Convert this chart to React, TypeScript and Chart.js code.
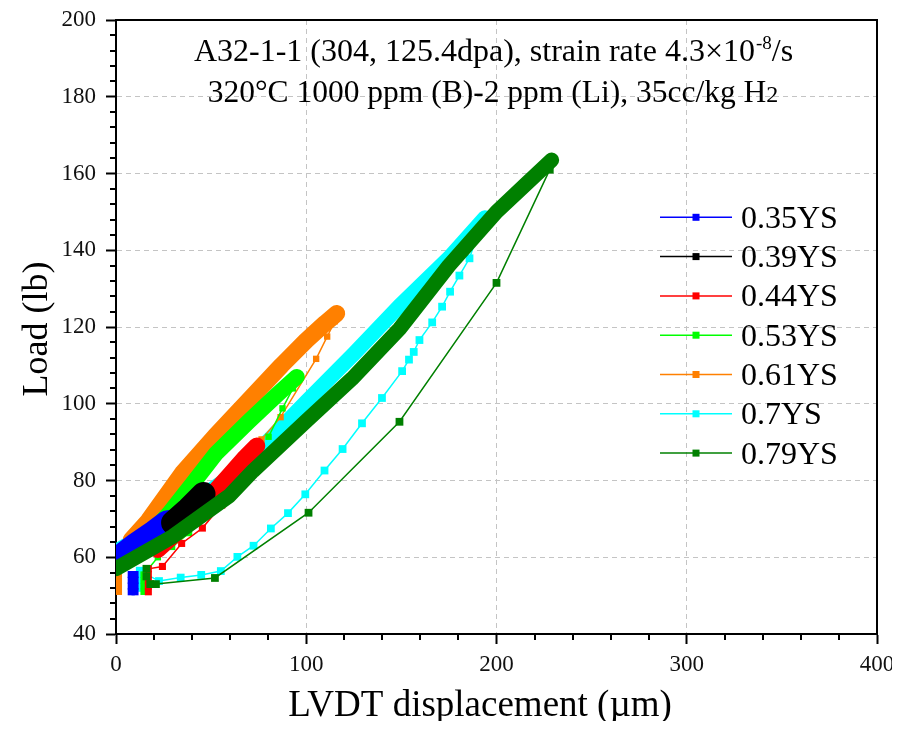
import React, { useEffect, useRef } from 'react';
import { Chart, registerables } from 'chart.js';

Chart.register(...registerables);

type P = [number, number];

// ---------- data ----------
const seriesLabels = ['0.35YS', '0.39YS', '0.44YS', '0.53YS', '0.61YS', '0.7YS', '0.79YS'];
const seriesColors = ['#0000ff', '#000000', '#ff0000', '#00ff00', '#ff8000', '#00ffff', '#008000'];

// dense loading bands
const band035: P[] = [[1, 59.5], [10, 63], [20, 66.4], [27, 69]];
const band039: P[] = [[30, 69], [38, 72.5], [46, 76.5]];
const band044: P[] = [[22, 62], [32, 66.5], [42, 71], [50, 76], [60, 81.5], [68, 86], [74, 89]];
const band053: P[] = [[0, 58], [15, 64.5], [28, 71.5], [40, 79], [52.5, 87], [70, 95.5], [85, 102.5], [95, 107]];
const band061: P[] = [[8, 64.5], [17, 69.5], [35, 82], [52, 91.5], [70, 101], [87, 110], [100, 116.5], [110, 121], [116, 123.5]];
const band07: P[] = [[0, 61.5], [30, 70.5], [60, 81], [77, 88.8], [100, 100.5], [125, 113], [149, 125.5], [175, 138], [194, 148.5]];
const band079: P[] = [[0, 57], [30, 65.5], [59.5, 76], [72, 82.5], [100, 95.5], [124, 106.5], [149, 119.5], [175, 136], [200, 150], [215, 157], [229, 163.5]];

// sparse points (square markers joined by thin lines)
const pts035: P[] = [[8, 51], [8, 52.5], [8, 54], [8, 55.5], [10, 55.5], [10, 54], [10, 52.5], [10, 51]];
const pts044: P[] = [[17, 51], [17, 52.5], [17, 54], [17, 55.5], [17, 57], [24.4, 57.6], [34.5, 63.6], [45.4, 67.6], [55.6, 73.6], [65, 79.5]];
const pts053Low: P[] = [[14.5, 51], [14.5, 52.5], [14.5, 54], [14.5, 55.5], [22, 60], [29.5, 62.7], [38.4, 66.3]];
const pts053High: P[] = [[80.2, 91.4], [87.5, 98.8], [93, 104]];
const pts061: P[] = [[1.5, 51], [1.5, 52.5], [1.5, 54], [1.5, 55.5], [1.5, 57], [3, 59]];
const pts061High: P[] = [[76.5, 90.7], [86.5, 96.5], [105.2, 111.7], [111, 117.5], [115, 121.5]];
const pts07: P[] = [[12.5, 52], [12.5, 53.5], [12.5, 55], [12.5, 56.5], [22.6, 53.8], [34, 54.7], [44.8, 55.4], [55.1, 56.4], [63.8, 60.1], [72.3, 63], [81.4, 67.5], [90.4, 71.5], [99.5, 76.4], [109.6, 82.6], [119.1, 88.2], [129.3, 94.9], [139.8, 101.5], [150.4, 108.5], [154, 111.5], [156.5, 113.5], [159.5, 116.6], [166.2, 121.2], [171.4, 125.3], [175.6, 129.2], [180.5, 133.4], [185.8, 137.9], [190, 144]];
const pts079: P[] = [[16, 57], [16, 55], [18, 53], [21, 53], [52, 54.6], [101.2, 71.6], [149, 95.3], [200, 131.5], [228, 161]];

// axes
const xMin = 0, xMax = 400, xStep = 100, xMinorStep = 20;
const yMin = 40, yMax = 200, yStep = 20, yMinorStep = 4;
const xTitle = 'LVDT displacement (µm)';
const yTitle = 'Load (lb)';
const titleLine1 = 'A32-1-1 (304, 125.4dpa), strain rate 4.3×10';
const titleSup = '-8';
const titleTail = '/s';
const titleLine2 = '320°C 1000 ppm (B)-2 ppm (Li), 35cc/kg H';
const titleSub = '2';

const FONT = '"Liberation Serif", "Times New Roman", serif';

const toXY = (pts: P[]) => pts.map(([x, y]) => ({ x, y }));

function band(pts: P[], color: string, width: number) {
  return {
    data: toXY(pts),
    showLine: true,
    borderColor: color,
    backgroundColor: color,
    borderWidth: width,
    pointRadius: 0,
    pointHoverRadius: 0,
    borderJoinStyle: 'round' as const,
    borderCapStyle: 'round' as const,
    fill: false,
  };
}

function markers(pts: P[], color: string, r = 5) {
  return {
    data: toXY(pts),
    showLine: true,
    borderColor: color,
    backgroundColor: color,
    borderWidth: 1.5,
    pointStyle: 'rect' as const,
    pointRadius: r,
    pointHoverRadius: r,
    pointBorderWidth: 0,
    pointBackgroundColor: color,
    fill: false,
  };
}

const overlayPlugin = {
  id: 'overlay',
  afterDraw(chart: any) {
    const { ctx, chartArea: ca, scales } = chart;
    const xs = scales.x;
    const ys = scales.y;
    ctx.save();
    // frame top & right
    ctx.strokeStyle = '#000';
    ctx.lineWidth = 2;
    ctx.beginPath();
    ctx.moveTo(ca.left, ca.top);
    ctx.lineTo(ca.right, ca.top);
    ctx.lineTo(ca.right, ca.bottom);
    ctx.stroke();
    // minor ticks
    ctx.beginPath();
    for (let v = xMin; v <= xMax; v += xMinorStep) {
      if (v % xStep === 0) continue;
      const px = Math.round(xs.getPixelForValue(v));
      ctx.moveTo(px, ca.bottom);
      ctx.lineTo(px, ca.bottom + 6);
    }
    for (let v = yMin; v <= yMax; v += yMinorStep) {
      if ((v - yMin) % yStep === 0) continue;
      const py = Math.round(ys.getPixelForValue(v));
      ctx.moveTo(ca.left, py);
      ctx.lineTo(ca.left - 6, py);
    }
    ctx.stroke();

    // axis titles
    ctx.fillStyle = '#000';
    ctx.font = `37px ${FONT}`;
    ctx.textAlign = 'center';
    ctx.textBaseline = 'alphabetic';
    ctx.fillText(xTitle, 472, 708);
    ctx.font = `36px ${FONT}`;
    ctx.save();
    ctx.translate(39, 321);
    ctx.rotate(-Math.PI / 2);
    ctx.fillText(yTitle, 0, 0);
    ctx.restore();

    // chart title (two lines)
    ctx.textAlign = 'left';
    const big = `32px ${FONT}`;
    const small = `19px ${FONT}`;
    ctx.font = big;
    const w1 = ctx.measureText(titleLine1).width;
    const w1t = ctx.measureText(titleTail).width;
    ctx.font = small;
    const w1s = ctx.measureText(titleSup).width;
    const cx = 485;
    let x = cx - (w1 + w1s + w1t) / 2;
    ctx.font = big;
    ctx.fillText(titleLine1, x, 53);
    x += w1;
    ctx.font = small;
    ctx.fillText(titleSup, x + 1, 41);
    x += w1s + 1;
    ctx.font = big;
    ctx.fillText(titleTail, x, 53);

    const big2 = `31.5px ${FONT}`;
    ctx.font = big2;
    const w2 = ctx.measureText(titleLine2).width;
    ctx.font = `24px ${FONT}`;
    const w2s = ctx.measureText(titleSub).width;
    x = cx - (w2 + w2s) / 2;
    ctx.font = big2;
    ctx.fillText(titleLine2, x, 94);
    ctx.font = `24px ${FONT}`;
    ctx.fillText(titleSub, x + w2, 94);

    // legend
    const lx0 = 652, lx1 = 724, tx = 733;
    ctx.font = `32px ${FONT}`;
    seriesLabels.forEach((lab, i) => {
      const cy = 209.3 + i * 39.3;
      const c = seriesColors[i];
      ctx.strokeStyle = c;
      ctx.lineWidth = 1.5;
      ctx.beginPath();
      ctx.moveTo(lx0, cy);
      ctx.lineTo(lx1, cy);
      ctx.stroke();
      ctx.fillStyle = c;
      ctx.fillRect((lx0 + lx1) / 2 - 3.5, cy - 3.5, 7, 7);
      ctx.fillStyle = '#000';
      ctx.fillText(lab, tx, cy + 10.5);
    });
    ctx.restore();
  },
};

export default function App() {
  const ref = useRef<HTMLCanvasElement | null>(null);

  useEffect(() => {
    if (!ref.current) return;
    const c = seriesColors;
    // index 0 is drawn on top
    const datasets: any[] = [
      markers(pts079, c[6], 5.5),
      band(band079, c[6], 15),
      band(band039, c[1], 24),
      markers(pts035, c[0], 5),
      band(band035, c[0], 25),
      markers(pts044, c[2], 5),
      band(band044, c[2], 17),
      markers(pts053High, c[3], 4.5),
      markers(pts053Low, c[3], 4.5),
      band(band053, c[3], 16),
      markers(pts061High, c[4], 4.5),
      markers(pts061, c[4], 4.5),
      band(band061, c[4], 17),
      markers(pts07, c[5], 5.5),
      band(band07, c[5], 15),
    ];

    const chart = new Chart(ref.current, {
      type: 'scatter',
      data: { datasets },
      options: {
        animation: false,
        responsive: true,
        maintainAspectRatio: false,
        layout: { padding: 0 },
        plugins: {
          legend: { display: false },
          tooltip: { enabled: false },
        },
        events: [],
        scales: {
          x: {
            type: 'linear',
            position: 'bottom',
            min: xMin,
            max: xMax,
            ticks: {
              stepSize: xStep,
              font: { family: FONT, size: 23 },
              color: '#111',
              padding: 7,
              maxRotation: 0,
            },
            grid: {
              color: '#c4c4c4',
              lineWidth: 1,
              tickLength: 10,
              tickWidth: 2,
              tickColor: '#000',
              tickBorderDash: [],
            },
            border: { display: true, color: '#000', width: 2, dash: [5, 4] },
            afterFit: (s: any) => {
              s.height = 87;
              s.paddingLeft = 0;
              s.paddingRight = 23;
              s.paddingTop = 0;
              s.paddingBottom = 0;
            },
          },
          y: {
            type: 'linear',
            position: 'left',
            min: yMin,
            max: yMax,
            ticks: {
              stepSize: yStep,
              font: { family: FONT, size: 23 },
              color: '#111',
              padding: 10,
            },
            grid: {
              color: '#c4c4c4',
              lineWidth: 1,
              tickLength: 10,
              tickWidth: 2,
              tickColor: '#000',
              tickBorderDash: [],
            },
            border: { display: true, color: '#000', width: 2, dash: [5, 4] },
            afterFit: (s: any) => {
              s.width = 108;
              s.paddingTop = 12;
              s.paddingBottom = 0;
              s.paddingLeft = 0;
              s.paddingRight = 0;
            },
          },
        },
      } as any,
      plugins: [overlayPlugin],
    });
    return () => chart.destroy();
  }, []);

  return (
    <div style={{ width: 892, height: 713, position: 'relative' }}>
      <canvas ref={ref} />
    </div>
  );
}
